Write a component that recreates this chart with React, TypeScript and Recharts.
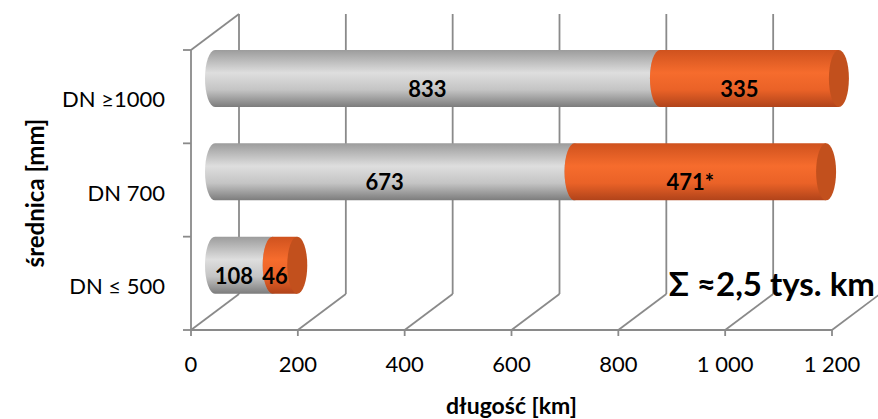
import React from "react";
import { Bar, BarChart, CartesianGrid, Label, XAxis, YAxis } from "recharts";

const categories = ["DN ≥1000", "DN 700", "DN ≤ 500"];
const existing = [833, 673, 108];
const planned = [335, 471, 46];
const existingLabels = ["833", "673", "108"];
const plannedLabels = ["335", "471*", "46"];
const xTicks = [0, 200, 400, 600, 800, 1000, 1200];

const data = categories.map((name, i) => ({
  name,
  gray: existing[i],
  orange: planned[i],
  grayLabel: existingLabels[i],
  orangeLabel: plannedLabels[i],
}));

// depth of the fake 3D box
const DX = 48;
const DY = 36;
const RX = 10;
const FONT = "Lato, 'Open Sans', sans-serif";
const GRID = "#8a8a8a";

const fmt = (v: number) => String(v).replace(/\B(?=(\d{3})+(?!\d))/g, " ");

function bodyPath(sx: number, sy: number, w: number, h: number) {
  const ry = h / 2;
  return `M${sx},${sy} L${sx + w},${sy} L${sx + w},${sy + h} L${sx},${sy + h} A${RX},${ry} 0 0 1 ${sx},${sy} Z`;
}

function GrayCylinder(props: any) {
  const { x, y, width, height } = props;
  const sx = x + DX / 2;
  const sy = y - DY / 2;
  return (
    <g>
      <path d={bodyPath(sx, sy, width, height)} fill="url(#grayBody)" />
      <ellipse cx={sx + width} cy={sy + height / 2} rx={RX} ry={height / 2} fill="#a9a9a9" />
    </g>
  );
}

function OrangeCylinder(props: any) {
  const { x, y, width, height, payload } = props;
  const sx = x + DX / 2;
  const sy = y - DY / 2;
  const k = width / payload.orange;
  const grayStart = sx - payload.gray * k;
  const ty = sy + height / 2 + 10;
  return (
    <g>
      <path d={bodyPath(sx, sy, width, height)} fill="url(#orangeBody)" />
      <ellipse cx={sx + width} cy={sy + height / 2} rx={RX} ry={height / 2} fill="#c2501d" />
      <text
        x={(grayStart + sx) / 2 - 10}
        y={ty}
        textAnchor="middle"
        dominantBaseline="central"
        fontFamily={FONT}
        fontWeight="bold"
        fontSize={22}
        fill="#000"
      >
        {payload.grayLabel}
      </text>
      <text
        x={sx + width / 2 - 10}
        y={ty}
        textAnchor="middle"
        dominantBaseline="central"
        fontFamily={FONT}
        fontWeight="bold"
        fontSize={22}
        fill="#000"
      >
        {payload.orangeLabel}
      </text>
    </g>
  );
}

function gridLine(props: any) {
  const { x1, y1, y2, index } = props;
  return (
    <g key={`v-${index}`} stroke={GRID} strokeWidth={1.8} fill="none">
      <line x1={x1 + DX} y1={y1 - DY} x2={x1 + DX} y2={y2 - DY} />
      <line x1={x1} y1={y2} x2={x1 + DX} y2={y2 - DY} />
      {index === 0 && <line x1={x1} y1={y1} x2={x1 + DX} y2={y1 - DY} />}
    </g>
  );
}

function CategoryTick(props: any) {
  const { x, y, payload, index } = props;
  const half = payload.offset || 46.7;
  const ax = x + 26;
  return (
    <g>
      <line x1={ax - 8} y1={y - half} x2={ax} y2={y - half} stroke={GRID} strokeWidth={1.8} />
      {index === categories.length - 1 && (
        <line x1={ax - 8} y1={y + half} x2={ax} y2={y + half} stroke={GRID} strokeWidth={1.8} />
      )}
      <text x={x} y={y + 2} textAnchor="end" dominantBaseline="central" fontFamily={FONT} fontSize={22} fill="#000">
        {payload.value}
      </text>
    </g>
  );
}

export default function App() {
  return (
    <div style={{ position: "absolute", left: 0, top: 0, width: 878, height: 419, background: "#fff", overflow: "hidden" }}>
      <BarChart
        width={878}
        height={419}
        data={data}
        layout="vertical"
        margin={{ top: 50, right: 46, bottom: 0, left: 0 }}
        barSize={57}
      >
        <defs>
          <linearGradient id="grayBody" x1="0" y1="0" x2="0" y2="1">
            <stop offset="0%" stopColor="#9c9c9c" />
            <stop offset="40%" stopColor="#dedede" />
            <stop offset="70%" stopColor="#c4c4c4" />
            <stop offset="100%" stopColor="#7c7c7c" />
          </linearGradient>
          <linearGradient id="orangeBody" x1="0" y1="0" x2="0" y2="1">
            <stop offset="0%" stopColor="#cf521e" />
            <stop offset="40%" stopColor="#f66c2d" />
            <stop offset="70%" stopColor="#ea6227" />
            <stop offset="100%" stopColor="#b0431a" />
          </linearGradient>
        </defs>
        <CartesianGrid horizontal={false} vertical={gridLine} />
        <XAxis
          type="number"
          domain={[0, 1200]}
          ticks={xTicks}
          interval={0}
          height={89}
          tickSize={6}
          tickMargin={20}
          tickFormatter={fmt}
          axisLine={{ stroke: GRID, strokeWidth: 1.8 }}
          tickLine={{ stroke: GRID, strokeWidth: 1.8 }}
          tick={{ fill: "#000", fontSize: 22, fontFamily: FONT }}
        >
          <Label
            value="długość [km]"
            position="insideBottom"
            offset={5}
            style={{ fontFamily: FONT, fontWeight: "bold", fontSize: 23, fill: "#000" }}
          />
        </XAxis>
        <YAxis
          type="category"
          dataKey="name"
          width={191}
          tickLine={false}
          tickSize={0}
          tickMargin={26}
          axisLine={{ stroke: GRID, strokeWidth: 1.8 }}
          tick={CategoryTick}
        >
          <Label
            content={(p: any) => {
              const vb = p.viewBox || { x: 0, y: 50, width: 191, height: 280 };
              const cx = vb.x + 34;
              const cy = vb.y + vb.height / 2 + 3;
              return (
                <text
                  x={cx}
                  y={cy}
                  transform={`rotate(-90 ${cx} ${cy})`}
                  textAnchor="middle"
                  dominantBaseline="central"
                  fontFamily={FONT}
                  fontWeight="bold"
                  fontSize={24}
                  fill="#000"
                >
                  średnica [mm]
                </text>
              );
            }}
          />
        </YAxis>
        <Bar dataKey="gray" stackId="a" isAnimationActive={false} shape={GrayCylinder} />
        <Bar dataKey="orange" stackId="a" isAnimationActive={false} shape={OrangeCylinder} />
      </BarChart>
      <div
        style={{
          position: "absolute",
          right: 3,
          top: 264,
          fontFamily: FONT,
          fontWeight: "bold",
          fontSize: 33,
          lineHeight: "39px",
          color: "#000",
          whiteSpace: "nowrap",
        }}
      >
        Σ ≈2,5 tys. km
      </div>
    </div>
  );
}
